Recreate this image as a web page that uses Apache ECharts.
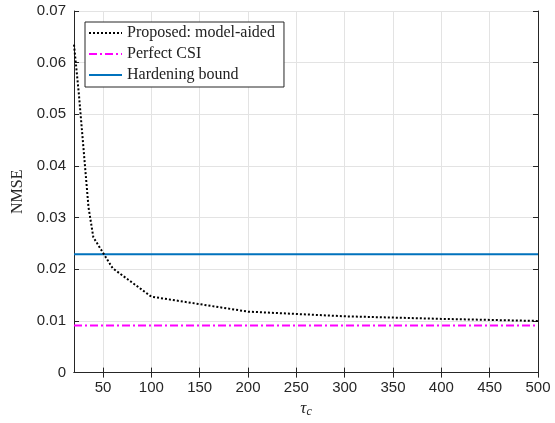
<!DOCTYPE html>
<html>
<head>
<meta charset="utf-8">
<script src="https://cdn.jsdelivr.net/npm/echarts@6/dist/echarts.min.js"></script>
<style>
html,body{margin:0;padding:0;background:#fff;}
#c{width:555px;height:423px;}
</style>
</head>
<body>
<div id="c"></div>
<script>
// Data
var tauProposed = [20, 25, 30, 35, 40, 50, 60, 100, 200, 300, 400, 500];
var nmseProposed = [0.0635, 0.054, 0.043, 0.032, 0.0262, 0.0232, 0.0202, 0.0147, 0.0118, 0.0109, 0.0104, 0.0100];
var tauRange = [20, 500];
var nmsePerfect = [0.0091, 0.0091];
var nmseHardening = [0.0229, 0.0229];
var xTicks = [50, 100, 150, 200, 250, 300, 350, 400, 450, 500];
var seriesNames = ['Proposed: model-aided', 'Perfect CSI', 'Hardening bound'];

function pairs(xs, ys) { return xs.map(function (x, i) { return [x, ys[i]]; }); }

var axisColor = '#262626';
var gridColor = '#e3e3e3';
var labelFont = { fontFamily: 'Liberation Sans, Arial, sans-serif', fontSize: 15, color: axisColor };

var chart = echarts.init(document.getElementById('c'), null, { renderer: 'canvas' });
chart.setOption({
  animation: false,
  backgroundColor: '#fff',
  grid: { left: 74, right: 17, top: 11, bottom: 46, containLabel: false },
  legend: {
    orient: 'vertical',
    left: 85, top: 22,
    data: seriesNames,
    backgroundColor: '#fff',
    borderColor: axisColor,
    borderWidth: 1,
    padding: [3, 9, 4, 3],
    itemWidth: 33,
    itemHeight: 14,
    itemGap: 5,
    itemStyle: { opacity: 0 },
    textStyle: { fontFamily: 'Liberation Serif, Times New Roman, serif', fontSize: 16, color: '#222' }
  },
  xAxis: [{
    type: 'value', min: tauRange[0], max: tauRange[1], position: 'bottom',
    name: '{t|τ}{s|c}', nameLocation: 'middle', nameGap: 27,
    nameTextStyle: {
      rich: {
        t: { fontFamily: 'Liberation Serif, serif', fontStyle: 'italic', fontSize: 17, color: axisColor },
        s: { fontFamily: 'Liberation Serif, serif', fontStyle: 'italic', fontSize: 12, color: axisColor, verticalAlign: 'bottom', padding: [6, 0, 0, 0] }
      }
    },
    axisLine: { show: true, lineStyle: { color: axisColor, width: 1 } },
    axisTick: { show: true, inside: true, length: 5, customValues: xTicks, lineStyle: { color: axisColor } },
    axisLabel: { customValues: xTicks, margin: 8, ...labelFont },
    splitLine: { show: true, lineStyle: { color: gridColor, width: 1 } }
  }, {
    type: 'value', min: tauRange[0], max: tauRange[1], position: 'top',
    axisLine: { show: true, lineStyle: { color: axisColor, width: 1 } },
    axisTick: { show: true, inside: true, length: 5, customValues: xTicks, lineStyle: { color: axisColor } },
    axisLabel: { show: false },
    splitLine: { show: false }
  }],
  yAxis: [{
    type: 'value', min: 0, max: 0.07, interval: 0.01, position: 'left',
    name: 'NMSE', nameLocation: 'middle', nameGap: 37,
    nameTextStyle: { fontFamily: 'Liberation Serif, Times New Roman, serif', fontSize: 16, color: axisColor },
    axisLine: { show: true, lineStyle: { color: axisColor, width: 1 } },
    axisTick: { show: true, inside: true, length: 5, lineStyle: { color: axisColor } },
    axisLabel: { margin: 8, ...labelFont },
    splitLine: { show: true, lineStyle: { color: gridColor, width: 1 } }
  }, {
    type: 'value', min: 0, max: 0.07, interval: 0.01, position: 'right',
    axisLine: { show: true, lineStyle: { color: axisColor, width: 1 } },
    axisTick: { show: true, inside: true, length: 5, lineStyle: { color: axisColor } },
    axisLabel: { show: false },
    splitLine: { show: false }
  }],
  series: [{
    name: seriesNames[0], type: 'line', xAxisIndex: 0, yAxisIndex: 0,
    data: pairs(tauProposed, nmseProposed),
    showSymbol: false, symbol: 'none',
    lineStyle: { color: '#000', width: 2, type: [2, 2], cap: 'butt' },
    itemStyle: { color: '#000' },
    z: 5
  }, {
    name: seriesNames[1], type: 'line', xAxisIndex: 0, yAxisIndex: 0,
    data: pairs(tauRange, nmsePerfect),
    showSymbol: false, symbol: 'none',
    lineStyle: { color: '#ff00ff', width: 2, type: [8, 3, 2, 3] },
    itemStyle: { color: '#ff00ff' },
    z: 4
  }, {
    name: seriesNames[2], type: 'line', xAxisIndex: 0, yAxisIndex: 0,
    data: pairs(tauRange, nmseHardening),
    showSymbol: false, symbol: 'none',
    lineStyle: { color: '#0072bd', width: 2 },
    itemStyle: { color: '#0072bd' },
    z: 4
  }]
});
</script>
</body>
</html>
